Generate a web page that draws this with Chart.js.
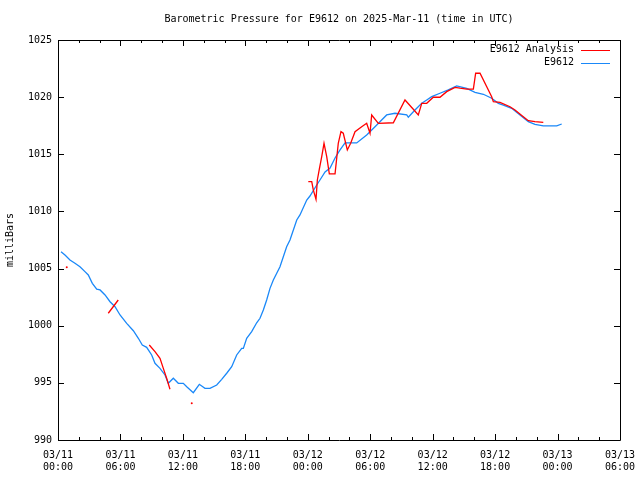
<!DOCTYPE html>
<html>
<head>
<meta charset="utf-8">
<script src="https://cdn.jsdelivr.net/npm/chart.js@4/dist/chart.umd.min.js"></script>
<style>
  html, body { margin: 0; padding: 0; background: #fff; }
  canvas { display: block; }
</style>
</head>
<body>
<canvas id="pressureChart" width="640" height="480"></canvas>
<script>
// hours since 03/11 00:00 UTC
const obsHours = [
  0.29, 0.67, 1.15, 1.63, 2.11, 2.59, 2.91, 3.30, 3.72, 4.04, 4.52, 5.00, 5.48, 5.96,
  6.60, 7.24, 7.72, 8.10, 8.52, 9.00, 9.32, 9.80, 10.28, 10.60, 11.08, 11.56, 12.04,
  12.37, 13.00, 13.58, 14.12, 14.60, 15.25, 15.73, 16.21, 16.69, 17.17, 17.65, 17.81,
  18.13, 18.61, 19.09, 19.41, 19.73, 20.05, 20.37, 20.69, 21.33, 21.97, 22.29, 22.94,
  23.25, 23.90, 24.21, 24.86, 25.17, 25.66, 26.14, 26.62, 27.10, 27.58, 28.70, 29.66,
  30.46, 31.58, 32.38, 33.51, 33.66, 34.30, 34.95, 35.43, 35.91, 36.70, 37.50, 38.31,
  39.27, 40.07, 40.87, 41.67, 42.31, 42.79, 43.59, 44.39, 45.19, 45.83, 46.63, 47.92,
  48.40
];
const obsPressure = [
  1006.48, 1006.19, 1005.75, 1005.46, 1005.16, 1004.73, 1004.44, 1003.71, 1003.19,
  1003.13, 1002.69, 1002.10, 1001.66, 1000.94, 1000.21, 999.56, 998.90, 998.31, 998.11,
  997.44, 996.71, 996.27, 995.69, 994.96, 995.40, 994.96, 994.96, 994.66, 994.14,
  994.87, 994.52, 994.52, 994.81, 995.31, 995.84, 996.41, 997.44, 998.02, 998.02,
  998.90, 999.48, 1000.26, 1000.65, 1001.38, 1002.25, 1003.27, 1004.00, 1005.16,
  1006.91, 1007.50, 1009.25, 1009.69, 1011.00, 1011.35, 1012.31, 1012.75, 1013.45,
  1013.80, 1014.68, 1015.38, 1015.99, 1015.99, 1016.69, 1017.41, 1018.44, 1018.59,
  1018.44, 1018.24, 1018.88, 1019.46, 1019.75, 1020.04, 1020.34, 1020.63, 1020.98,
  1020.77, 1020.42, 1020.25, 1019.90, 1019.46, 1019.31, 1019.02, 1018.44, 1017.85,
  1017.62, 1017.48, 1017.48, 1017.65
];

// analysis series, null = gap
const anaHours = [
  0.84, null,
  4.83, 5.79, null,
  8.77, 9.32, 9.80, 10.12, 10.44, 10.76, null,
  12.85, null,
  24.05, 24.38, 24.53, 24.79, 24.92, 25.11, 25.34, 25.56, 25.82, 26.07, 26.62, 26.93,
  27.19, 27.41, 27.80, 28.12, 28.54, 29.18, 29.66, 29.98, 30.14, 30.78, 32.22, 33.34,
  34.14, 34.62, 34.95, 35.43, 36.06, 36.70, 37.35, 38.15, 38.63, 39.27, 39.91, 40.13,
  40.55, 41.67, 41.83, 42.47, 43.43, 43.91, 44.71, 45.19, 45.83, 46.63
];
const anaPressure = [
  1005.11, null,
  1001.09, 1002.25, null,
  998.31, 997.73, 997.15, 996.27, 995.40, 994.44, null,
  993.21, null,
  1012.60, 1012.60, 1011.88, 1011.06, 1012.75, 1013.71, 1014.79, 1015.96, 1014.79,
  1013.28, 1013.28, 1015.96, 1016.98, 1016.84, 1015.38, 1015.96, 1016.98, 1017.41,
  1017.71, 1016.84, 1018.44, 1017.71, 1017.76, 1019.75, 1018.94, 1018.44, 1019.46,
  1019.46, 1019.99, 1019.99, 1020.48, 1020.86, 1020.78, 1020.71, 1020.71, 1022.09,
  1022.09, 1020.04, 1019.60, 1019.55, 1019.16, 1018.88, 1018.29, 1017.94, 1017.85,
  1017.80
];

const xTickLabels = [
  ['03/11', '00:00'], ['03/11', '06:00'], ['03/11', '12:00'], ['03/11', '18:00'],
  ['03/12', '00:00'], ['03/12', '06:00'], ['03/12', '12:00'], ['03/12', '18:00'],
  ['03/13', '00:00'], ['03/13', '06:00']
];

const FONT = "'DejaVu Sans Mono', 'Liberation Mono', monospace";
const RED = '#ff0000';
const BLUE = '#1a88f8';

// box, inward ticks, title, y label and legend in gnuplot style
const gnuplotFrame = {
  id: 'gnuplotFrame',
  afterDraw(chart) {
    const { ctx, chartArea: a, scales: { x, y } } = chart;
    ctx.save();
    ctx.strokeStyle = '#000';
    ctx.lineWidth = 1;
    ctx.beginPath();
    ctx.rect(a.left + 0.5, a.top + 0.5, a.right - a.left, a.bottom - a.top);
    x.ticks.forEach(t => {
      const px = Math.round(x.getPixelForValue(t.value)) + 0.5;
      const len = t.value % 6 === 0 ? 6 : 3;
      ctx.moveTo(px, a.bottom); ctx.lineTo(px, a.bottom - len);
      ctx.moveTo(px, a.top); ctx.lineTo(px, a.top + len);
    });
    y.ticks.forEach(t => {
      const py = Math.round(y.getPixelForValue(t.value)) + 0.5;
      ctx.moveTo(a.left, py); ctx.lineTo(a.left + 6, py);
      ctx.moveTo(a.right, py); ctx.lineTo(a.right - 6, py);
    });
    ctx.stroke();

    ctx.fillStyle = '#000';
    ctx.font = '10px ' + FONT;
    ctx.textBaseline = 'middle';
    ctx.textAlign = 'center';
    ctx.fillText('Barometric Pressure for E9612 on 2025-Mar-11 (time in UTC)', (a.left + a.right) / 2, 19.5);

    ctx.save();
    ctx.translate(10, 240);
    ctx.rotate(-Math.PI / 2);
    ctx.fillText('milliBars', 0, 0);
    ctx.restore();

    // legend
    ctx.textAlign = 'right';
    chart.data.datasets.forEach((ds, i) => {
      const ly = 49.5 + i * 13;
      ctx.fillStyle = '#000';
      ctx.fillText(ds.label, 574, ly);
      ctx.strokeStyle = ds.borderColor;
      ctx.beginPath();
      ctx.moveTo(581, Math.round(ly) + 0.5);
      ctx.lineTo(610, Math.round(ly) + 0.5);
      ctx.stroke();
    });
    ctx.restore();
  }
};

function isolated(i) {
  return anaPressure[i] !== null &&
    (i === 0 || anaPressure[i - 1] === null) &&
    (i === anaPressure.length - 1 || anaPressure[i + 1] === null);
}

document.addEventListener('DOMContentLoaded', () => {
  const ctx = document.getElementById('pressureChart').getContext('2d');
  new Chart(ctx, {
    type: 'scatter',
    data: {
      datasets: [
        {
          label: 'E9612 Analysis',
          data: anaHours.map((h, i) => ({ x: h, y: anaPressure[i] })),
          showLine: true,
          spanGaps: false,
          borderColor: RED,
          backgroundColor: RED,
          borderWidth: 1.3,
          pointRadius: c => isolated(c.dataIndex) ? 1 : 0,
          pointBorderWidth: 0,
          tension: 0,
          order: 0
        },
        {
          label: 'E9612',
          data: obsHours.map((h, i) => ({ x: h, y: obsPressure[i] })),
          showLine: true,
          borderColor: BLUE,
          backgroundColor: BLUE,
          borderWidth: 1.3,
          pointRadius: 0,
          tension: 0,
          order: 1
        }
      ]
    },
    options: {
      responsive: false,
      animation: false,
      layout: { padding: { top: 40, right: 20, left: 0, bottom: 0 } },
      plugins: {
        legend: { display: false },
        tooltip: { enabled: false }
      },
      scales: {
        x: {
          type: 'linear',
          min: 0,
          max: 54,
          grid: { display: false, drawTicks: false },
          border: { display: false },
          ticks: {
            stepSize: 2,
            autoSkip: false,
            maxRotation: 0,
            padding: 9,
            color: '#000',
            font: { family: FONT, size: 10, lineHeight: 1.2 },
            callback: v => (v % 6 === 0 ? xTickLabels[v / 6] : '')
          },
          afterFit: s => {
            s.height = 40;
            s.paddingLeft = 0;
            s.paddingRight = 0;
          }
        },
        y: {
          min: 990,
          max: 1025,
          grid: { display: false, drawTicks: false },
          border: { display: false },
          ticks: {
            stepSize: 5,
            padding: 6,
            color: '#000',
            font: { family: FONT, size: 10 },
            callback: v => String(v)
          },
          afterFit: s => {
            s.width = 58;
            s.paddingTop = 0;
            s.paddingBottom = 0;
          }
        }
      }
    },
    plugins: [gnuplotFrame]
  });
});
</script>
</body>
</html>
